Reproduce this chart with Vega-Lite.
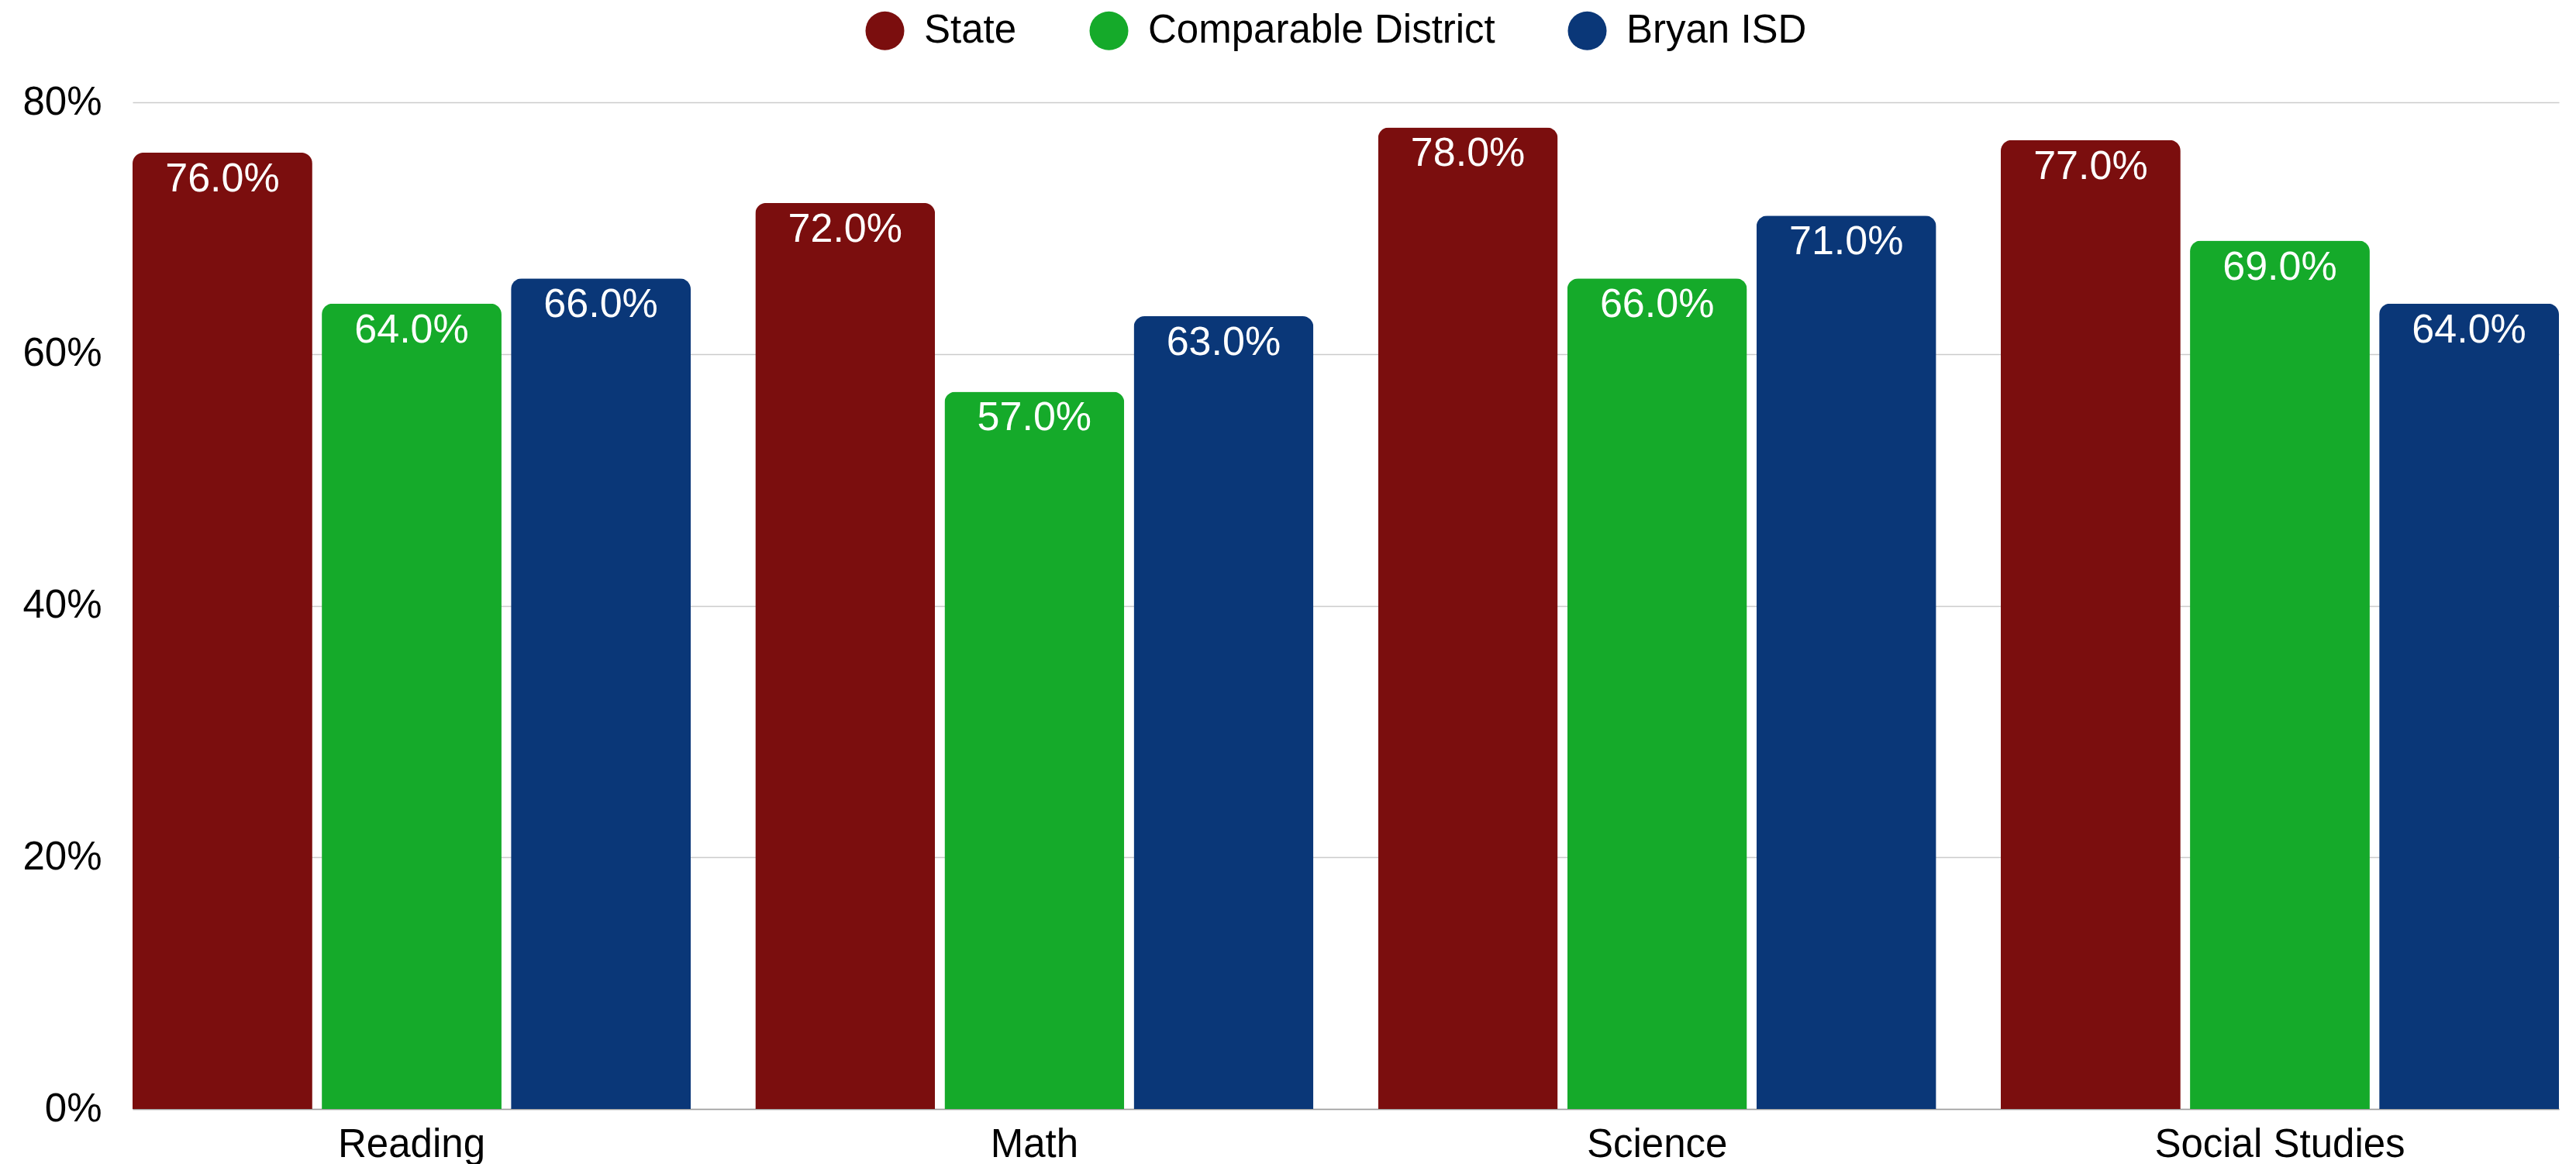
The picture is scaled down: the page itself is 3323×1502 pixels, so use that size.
{
  "$schema": "https://vega.github.io/schema/vega-lite/v6.json",
  "width": 3130,
  "height": 1299,
  "autosize": {"type": "none"},
  "padding": {"left": 171, "top": 132, "right": 22, "bottom": 71},
  "background": "white",
  "config": {
    "font": "Liberation Sans",
    "view": {"stroke": null}
  },
  "data": {
    "values": [
      {"subject": "Reading", "series": "State", "value": 0.76},
      {"subject": "Reading", "series": "Comparable District", "value": 0.64},
      {"subject": "Reading", "series": "Bryan ISD", "value": 0.66},
      {"subject": "Math", "series": "State", "value": 0.72},
      {"subject": "Math", "series": "Comparable District", "value": 0.57},
      {"subject": "Math", "series": "Bryan ISD", "value": 0.63},
      {"subject": "Science", "series": "State", "value": 0.78},
      {"subject": "Science", "series": "Comparable District", "value": 0.66},
      {"subject": "Science", "series": "Bryan ISD", "value": 0.71},
      {"subject": "Social Studies", "series": "State", "value": 0.77},
      {"subject": "Social Studies", "series": "Comparable District", "value": 0.69},
      {"subject": "Social Studies", "series": "Bryan ISD", "value": 0.64}
    ]
  },
  "encoding": {
    "x": {
      "field": "subject",
      "type": "nominal",
      "sort": ["Reading", "Math", "Science", "Social Studies"],
      "scale": {"paddingInner": 0.1037, "paddingOuter": 0},
      "axis": {
        "title": null,
        "labelAngle": 0,
        "labelFontSize": 51,
        "labelColor": "#000000",
        "labelPadding": 21,
        "labelLimit": 1000,
        "ticks": false,
        "tickSize": 0,
        "domainColor": "#9e9e9e",
        "domainWidth": 1.5,
        "grid": false
      }
    },
    "xOffset": {
      "field": "series",
      "type": "nominal",
      "sort": ["State", "Comparable District", "Bryan ISD"],
      "scale": {"paddingInner": 0.05, "paddingOuter": 0}
    },
    "y": {
      "field": "value",
      "type": "quantitative",
      "scale": {"domain": [0, 0.8], "nice": false},
      "axis": {
        "title": null,
        "format": ".0%",
        "values": [0, 0.2, 0.4, 0.6, 0.8],
        "labelFontSize": 51,
        "labelColor": "#000000",
        "labelPadding": 40,
        "ticks": false,
        "tickSize": 0,
        "domain": false,
        "gridColor": "#cccccc",
        "gridWidth": 1.5
      }
    }
  },
  "layer": [
    {
      "mark": {"type": "bar", "cornerRadiusTopLeft": 14, "cornerRadiusTopRight": 14},
      "encoding": {
        "color": {
          "field": "series",
          "type": "nominal",
          "sort": ["State", "Comparable District", "Bryan ISD"],
          "scale": {
            "domain": ["State", "Comparable District", "Bryan ISD"],
            "range": ["#7B0E0E", "#15AA2A", "#0A3778"]
          },
          "legend": {
            "title": null,
            "orient": "none",
            "direction": "horizontal",
            "legendX": 945,
            "legendY": -118,
            "symbolType": "circle",
            "symbolSize": 2500,
            "symbolStrokeWidth": 0,
            "symbolOpacity": 1,
            "labelFontSize": 51,
            "labelColor": "#000000",
            "labelOffset": 25,
            "labelLimit": 1000,
            "columnPadding": 93
          }
        }
      }
    },
    {
      "mark": {"type": "text", "color": "white", "fontSize": 52, "baseline": "alphabetic", "align": "center", "dy": 50},
      "encoding": {
        "text": {"field": "value", "type": "quantitative", "format": ".1%"}
      }
    }
  ]
}
